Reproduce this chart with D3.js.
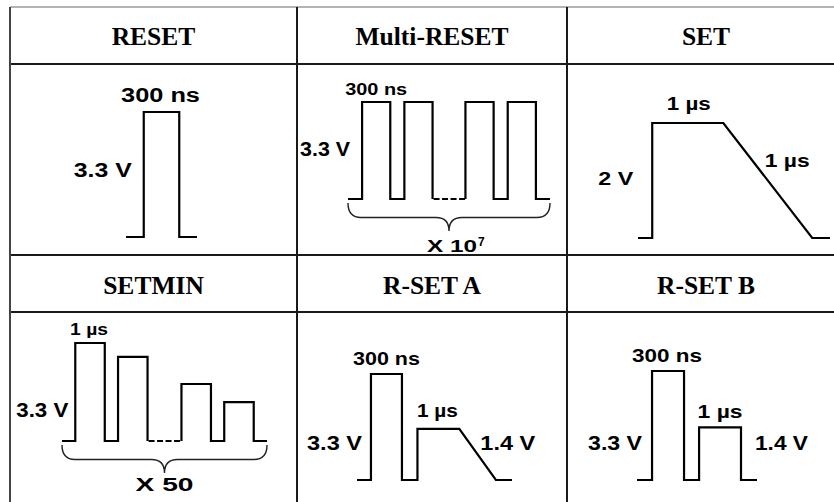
<!DOCTYPE html>
<html>
<head>
<meta charset="utf-8">
<script src="https://cdn.jsdelivr.net/npm/d3@7"></script>
<style>
  body { margin: 0; background: #fff; }
  svg text { fill: #000; }
</style>
</head>
<body>
<div id="chart"></div>
<script>
// column headers of the table, row by row
const headers = ["RESET", "Multi-RESET", "SET", "SETMIN", "R-SET A", "R-SET B"];

// pulse shapes: [time, volts]; time is in the sketch's own units
// a wave is a list of solid pieces, gaps are the dashed stretches between them
const resetWave = [[[0, 0], [150, 0], [150, 3.3], [450, 3.3], [450, 0], [600, 0]]];

const multiResetWave = [
    [[0, 0], [150, 0], [150, 3.3], [450, 3.3], [450, 0], [600, 0], [600, 3.3], [900, 3.3], [900, 0]],
    [[1250, 0], [1250, 3.3], [1550, 3.3], [1550, 0], [1700, 0], [1700, 3.3], [2000, 3.3], [2000, 0], [2150, 0]]
];
const multiResetGaps = [[900, 1250]];

const setWave = [[[0, 0], [0.2, 0], [0.2, 2], [1.2, 2], [2.45, 0], [2.7, 0]]];

const setminWave = [
    [[0, 0], [0.45, 0], [0.45, 3.3], [1.45, 3.3], [1.45, 0], [1.9, 0], [1.9, 2.83], [2.9, 2.83], [2.9, 0]],
    [[4.05, 0], [4.05, 1.92], [5.05, 1.92], [5.05, 0], [5.5, 0], [5.5, 1.31], [6.5, 1.31], [6.5, 0], [6.95, 0]]
];
const setminGaps = [[2.9, 4.05]];

const rsetAWave = [[[0, 0], [0.45, 0], [0.45, 3.3], [1.45, 3.3], [1.45, 0], [1.95, 0], [1.95, 1.4],
    [3.3, 1.4], [4.48, 0], [5.0, 0]]];

const rsetBWave = [[[0, 0], [0.47, 0], [0.47, 3.3], [1.47, 3.3], [1.47, 0], [1.94, 0], [1.94, 1.4],
    [3.25, 1.4], [3.25, 0], [3.75, 0]]];

const width = 834, height = 502;

const svg = d3.select("#chart")
    .append("svg")
    .attr("width", width)
    .attr("height", height);

// table grid
const colX = [10, 297, 567, 845];
const rowY = [7, 64, 255, 312, 510];

svg.append("line")
    .attr("x1", colX[0]).attr("x2", width)
    .attr("y1", rowY[0]).attr("y2", rowY[0])
    .attr("stroke", "#9a9a9a").attr("stroke-width", 1.5);

svg.selectAll(".hline")
    .data(rowY.slice(1, 4))
    .join("line")
    .attr("class", "hline")
    .attr("x1", colX[0]).attr("x2", width)
    .attr("y1", d => d).attr("y2", d => d)
    .attr("stroke", "#1a1a1a").attr("stroke-width", 2);

svg.selectAll(".vline")
    .data(colX.slice(0, 3))
    .join("line")
    .attr("class", "vline")
    .attr("x1", d => d).attr("x2", d => d)
    .attr("y1", rowY[0]).attr("y2", height)
    .attr("stroke", (d, i) => i === 0 ? "#444" : "#1a1a1a")
    .attr("stroke-width", 2);

// header titles
svg.selectAll(".head")
    .data(headers)
    .join("text")
    .attr("class", "head")
    .attr("x", (d, i) => (colX[i % 3] + colX[i % 3 + 1]) / 2)
    .attr("y", (d, i) => i < 3 ? 45 : 294)
    .attr("text-anchor", "middle")
    .attr("font-family", "'Liberation Serif', 'Times New Roman', serif")
    .attr("font-weight", "bold")
    .attr("font-size", 25.5)
    .text(d => d);

// one entry per cell: where the pulse sits and how its labels hang off it
const panels = [
    {
        wave: resetWave, gaps: [], tDomain: [0, 600], vTop: 3.3,
        xRange: [126, 197], yRange: [237, 112],
        labels: [
            {text: "300 ns", t: 300, v: 3.3, anchor: "middle", dx: -1, dy: -10, size: 20.5, len: 79},
            {text: "3.3 V", t: 150, v: 0, anchor: "end", dx: -12, dy: -60, size: 20.5, len: 58}
        ]
    },
    {
        wave: multiResetWave, gaps: multiResetGaps, tDomain: [0, 2150], vTop: 3.3,
        xRange: [348, 550], yRange: [199, 102],
        labels: [
            {text: "300 ns", t: 300, v: 3.3, anchor: "middle", dx: 0, dy: -7, size: 17, len: 62},
            {text: "3.3 V", t: 0, v: 0, anchor: "end", dx: 2, dy: -43, size: 20, len: 50}
        ],
        brace: {t: [0, 2150], text: "X 10", sup: "7", dx: -22, dy: 21, size: 17, len: 50}
    },
    {
        wave: setWave, gaps: [], tDomain: [0, 2.7], vTop: 2,
        xRange: [638, 830], yRange: [238, 123],
        labels: [
            {text: "1 µs", t: 0.7, v: 2, anchor: "middle", dx: 1, dy: -13, size: 17.5, len: 44},
            {text: "1 µs", t: 1.825, v: 1, anchor: "start", dx: -3, dy: -13.5, size: 17.5, len: 45},
            {text: "2 V", t: 0.2, v: 0, anchor: "end", dx: -19, dy: -53, size: 18.5, len: 35}
        ]
    },
    {
        wave: setminWave, gaps: setminGaps, tDomain: [0, 6.95], vTop: 3.3,
        xRange: [62, 267], yRange: [441, 343],
        labels: [
            {text: "1 µs", t: 0.95, v: 3.3, anchor: "middle", dx: -1, dy: -8, size: 16.5, len: 38},
            {text: "3.3 V", t: 0.45, v: 0, anchor: "end", dx: -7, dy: -24, size: 20, len: 52}
        ],
        brace: {t: [0, 6.95], text: "X 50", dx: 0, dy: 18, size: 17.5, len: 58}
    },
    {
        wave: rsetAWave, gaps: [], tDomain: [0, 5], vTop: 3.3, exp: 0.85,
        xRange: [357, 512], yRange: [480, 374],
        labels: [
            {text: "300 ns", t: 0.95, v: 3.3, anchor: "middle", dx: 0, dy: -9, size: 19, len: 67},
            {text: "1 µs", t: 2.625, v: 1.4, anchor: "middle", dx: -1, dy: -12, size: 17.5, len: 41},
            {text: "3.3 V", t: 0.45, v: 0, anchor: "end", dx: -9, dy: -30, size: 20.5, len: 55},
            {text: "1.4 V", t: 3.3, v: 1.4, anchor: "start", dx: 21, dy: 21, size: 20.5, len: 55}
        ]
    },
    {
        wave: rsetBWave, gaps: [], tDomain: [0, 3.75], vTop: 3.3, exp: 0.85,
        xRange: [637, 757], yRange: [480, 371],
        labels: [
            {text: "300 ns", t: 0.97, v: 3.3, anchor: "middle", dx: -1, dy: -9, size: 19, len: 70},
            {text: "1 µs", t: 2.595, v: 1.4, anchor: "middle", dx: 0, dy: -9.5, size: 17.5, len: 45},
            {text: "3.3 V", t: 0.47, v: 0, anchor: "end", dx: -10, dy: -30, size: 20.5, len: 54},
            {text: "1.4 V", t: 3.25, v: 0, anchor: "start", dx: 14, dy: -30, size: 20.5, len: 53}
        ]
    }
];

const sans = "'Liberation Sans', Arial, sans-serif";

// the sketch's labels are drawn a bit wide: scale each glyph run to its measured width
function stretchText(sel, ax, ay, len) {
    sel.each(function(d, i) {
        const natural = this.getComputedTextLength();
        const sx = natural > 0 ? len(d, i) / natural : 1;
        d3.select(this)
            .attr("x", 0).attr("y", 0)
            .attr("transform", `translate(${ax(d, i)},${ay(d, i)}) scale(${sx},1)`);
    });
}

panels.forEach(p => {
    const g = svg.append("g");
    const x = d3.scaleLinear().domain(p.tDomain).range(p.xRange);
    const y = d3.scalePow().exponent(p.exp || 1).domain([0, p.vTop]).range(p.yRange);
    const line = d3.line().x(d => x(d[0])).y(d => y(d[1]));

    g.selectAll(".wave")
        .data(p.wave)
        .join("path")
        .attr("class", "wave")
        .attr("d", line)
        .attr("fill", "none")
        .attr("stroke", "#000")
        .attr("stroke-width", 2.2)
        .attr("stroke-linejoin", "miter");

    g.selectAll(".gap")
        .data(p.gaps)
        .join("line")
        .attr("class", "gap")
        .attr("x1", d => x(d[0]) + 1).attr("x2", d => x(d[1]))
        .attr("y1", y(0)).attr("y2", y(0))
        .attr("stroke", "#000")
        .attr("stroke-width", 2.2)
        .attr("stroke-dasharray", "6,2.5");

    g.selectAll(".lab")
        .data(p.labels)
        .join("text")
        .attr("class", "lab")
        .attr("text-anchor", d => d.anchor)
        .attr("font-family", sans)
        .attr("font-weight", "bold")
        .attr("font-size", d => d.size)
        .text(d => d.text)
        .call(stretchText, d => x(d.t) + d.dx, d => y(d.v) + d.dy, d => d.len);

    if (p.brace) {
        const b = p.brace;
        const x0 = x(b.t[0]), x1 = x(b.t[1]), cx = (x0 + x1) / 2;
        const top = y(0) + 4, mid = top + 14.5, tip = top + 28, r = 13;
        const path = d3.path();
        path.moveTo(x0, top);
        path.quadraticCurveTo(x0, mid, x0 + r, mid);
        path.lineTo(cx - r, mid);
        path.quadraticCurveTo(cx, mid, cx, tip);
        path.quadraticCurveTo(cx, mid, cx + r, mid);
        path.lineTo(x1 - r, mid);
        path.quadraticCurveTo(x1, mid, x1, top);
        g.append("path")
            .attr("d", path.toString())
            .attr("fill", "none")
            .attr("stroke", "#222")
            .attr("stroke-width", 1.4);

        g.append("text")
            .datum(b)
            .attr("text-anchor", b.sup ? "start" : "middle")
            .attr("font-family", sans)
            .attr("font-weight", "bold")
            .attr("font-size", b.size)
            .text(b.text)
            .call(stretchText, () => cx + b.dx, () => tip + b.dy, () => b.len);
        if (b.sup) {
            g.append("text")
                .attr("x", cx + b.dx + b.len + 1)
                .attr("y", tip + b.dy - 6)
                .attr("font-family", sans)
                .attr("font-weight", "bold")
                .attr("font-size", 12)
                .text(b.sup);
        }
    }
});
</script>
</body>
</html>
